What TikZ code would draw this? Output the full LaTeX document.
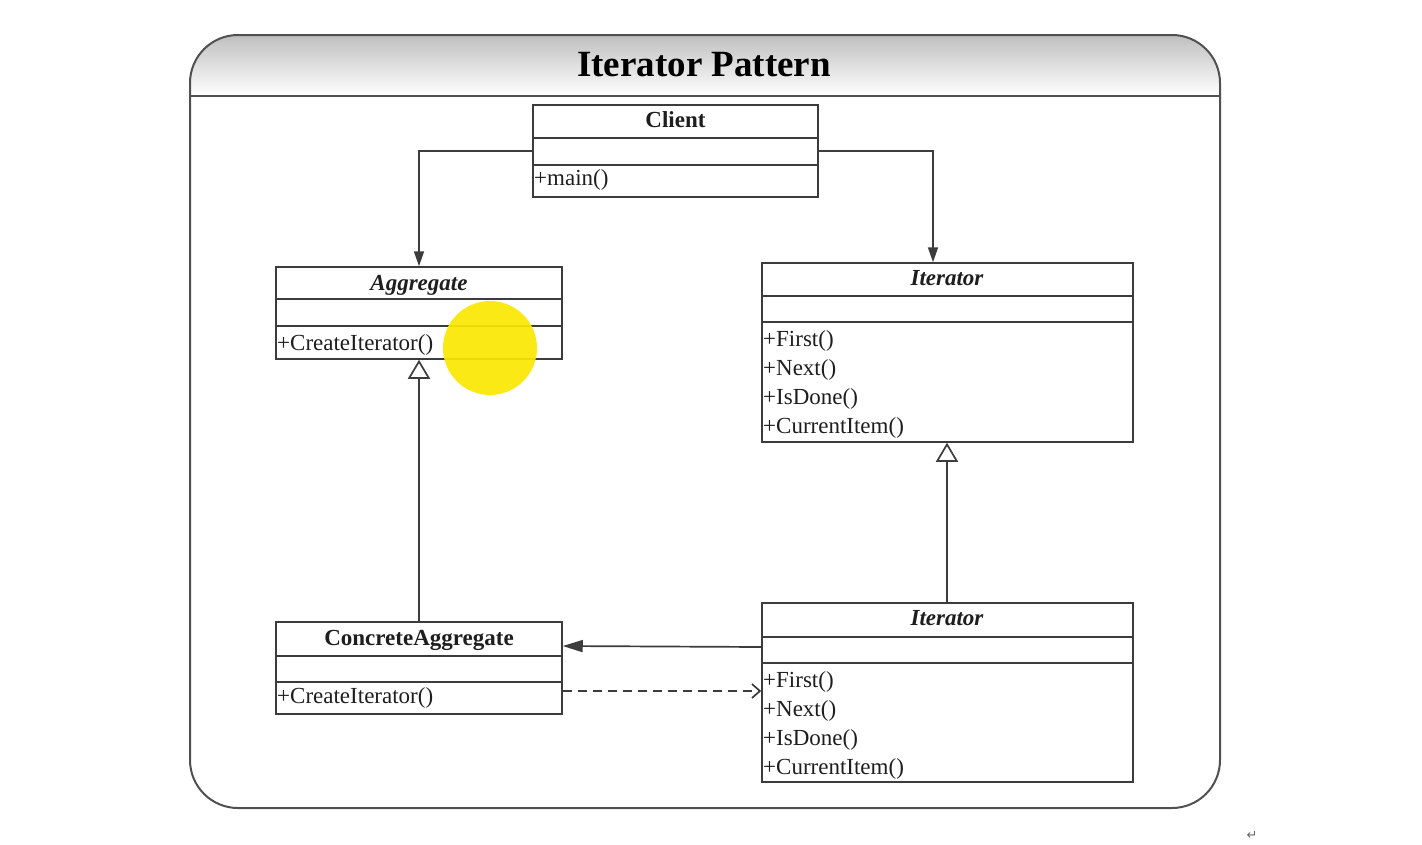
\documentclass[tikz,border=0pt]{standalone}
\usepackage{fontspec}
\setmainfont{Liberation Serif}
\newfontfamily\dejavu{DejaVu Sans}
\usetikzlibrary{arrows.meta,calc}
\definecolor{linec}{HTML}{3C3C3C}
\definecolor{framec}{HTML}{505050}
\definecolor{txtc}{HTML}{1E1E1E}
\definecolor{hilite}{RGB}{250,232,0}
\begin{document}
\begin{tikzpicture}[x=1pt,y=-1pt,
  cls/.style={draw=linec, fill=white, line width=1.5pt, rectangle, inner sep=0pt},
  sep/.style={draw=linec, line width=1.5pt},
  cname/.style={font=\fontsize{23}{26}\selectfont\bfseries, text=txtc, anchor=base, inner sep=0pt},
  aname/.style={cname, font=\fontsize{23}{26}\selectfont\bfseries\itshape},
  meth/.style={font=\fontsize{23}{26}\selectfont, text=txtc, anchor=base west, inner sep=0pt},
  conn/.style={draw=linec, line width=1.7pt},
  solidarr/.style={conn, -{Triangle[length=15pt,width=10pt]}},
  inh/.style={conn, -{Triangle[open,length=19pt,width=22pt,fill=white]}},
  dep/.style={conn, dashed, dash pattern=on 9pt off 6pt, -{Straight Barb[length=8pt,width=14pt]}}
]
\useasboundingbox (0,0) rectangle (1422,844);
\fill[white] (0,0) rectangle (1422,844);

% outer frame with title band
\begin{scope}
  \clip[rounded corners=48pt] (190,35) rectangle (1220,808);
  \shade[top color=black!25, bottom color=white] (190,35) rectangle (1220,96);
\end{scope}
\draw[draw=framec, line width=2pt, rounded corners=48pt] (190,35) rectangle (1220,808);
\draw[draw=framec, line width=2pt] (190,96) -- (1220,96);
\node[font=\fontsize{37}{40}\selectfont\bfseries, text=black] (title) at (704,65) {Iterator Pattern};

% Client
\node[cls, minimum width=285pt, minimum height=92pt] (client) at (675.5,151) {};
\draw[sep] (client.west |- 0,138) -- (client.east |- 0,138);
\draw[sep] (client.west |- 0,165) -- (client.east |- 0,165);
\node[cname] (clientn) at (675.5,127) {Client};
\node[meth] (clientm) at (534,185) {+main()};

% Aggregate
\node[cls, minimum width=286pt, minimum height=92pt] (agg) at (419,313) {};
\draw[sep] (agg.west |- 0,299) -- (agg.east |- 0,299);
\draw[sep] (agg.west |- 0,326) -- (agg.east |- 0,326);
\node[aname] (aggn) at (419,290) {Aggregate};
\node[meth] (aggm) at (277,350) {+CreateIterator()};

% Iterator (abstract)
\node[cls, minimum width=371pt, minimum height=179pt] (it1) at (947.5,352.5) {};
\draw[sep] (it1.west |- 0,296) -- (it1.east |- 0,296);
\draw[sep] (it1.west |- 0,322) -- (it1.east |- 0,322);
\node[aname] (it1n) at (947,285) {Iterator};
\node[meth] (it1a) at (763,346.5) {+First()};
\node[meth] (it1b) at (763,375.5) {+Next()};
\node[meth] (it1c) at (763,404.5) {+IsDone()};
\node[meth] (it1d) at (763,433.5) {+CurrentItem()};

% ConcreteAggregate
\node[cls, minimum width=286pt, minimum height=92pt] (ca) at (419,668) {};
\draw[sep] (ca.west |- 0,656) -- (ca.east |- 0,656);
\draw[sep] (ca.west |- 0,682) -- (ca.east |- 0,682);
\node[cname] (can) at (419,645) {ConcreteAggregate};
\node[meth] (cam) at (277,703) {+CreateIterator()};

% Iterator (concrete)
\node[cls, minimum width=371pt, minimum height=179pt] (it2) at (947.5,692.5) {};
\draw[sep] (it2.west |- 0,637) -- (it2.east |- 0,637);
\draw[sep] (it2.west |- 0,663) -- (it2.east |- 0,663);
\node[aname] (it2n) at (947,625) {Iterator};
\node[meth] (it2a) at (763,687) {+First()};
\node[meth] (it2b) at (763,716) {+Next()};
\node[meth] (it2c) at (763,745) {+IsDone()};
\node[meth] (it2d) at (763,774) {+CurrentItem()};

% connectors
\draw[solidarr] (client.west) -| (agg.north);
\draw[solidarr] (client.east) -| ([xshift=-14.5pt]it1.north);
\draw[inh] (ca.north) -- (agg.south);
\draw[inh] ([xshift=-0.5pt]it2.north) -- ([xshift=-0.5pt]it1.south);
\draw[conn, -{Triangle[length=20pt,width=12pt]}] (it2.west |- 0,647) -- (ca.east |- 0,646);
\draw[dep] (ca.east |- 0,691) -- (it2.west |- 0,691);

% cursor highlight
\fill[hilite, opacity=0.92] (490,348) circle (47pt);

% paragraph mark
\node[font=\dejavu\fontsize{13}{14}\selectfont, text=black!60] (pmark) at (1252,835) {↵};
\end{tikzpicture}
\end{document}
